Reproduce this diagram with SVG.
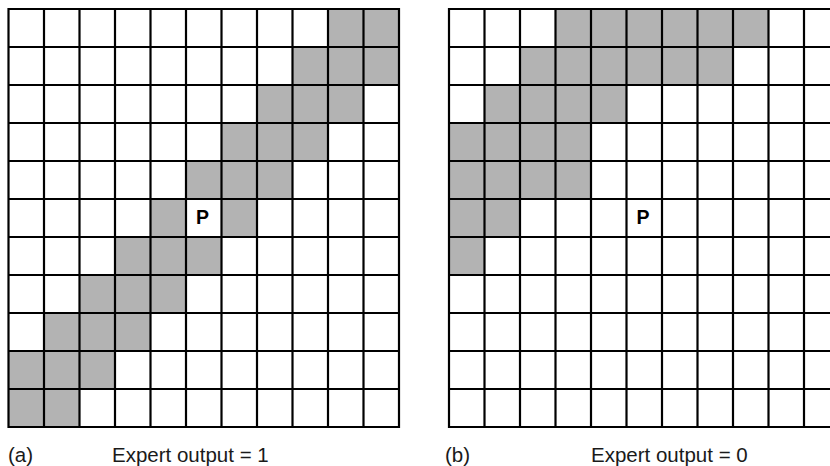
<svg xmlns="http://www.w3.org/2000/svg" width="830" height="466" viewBox="0 0 830 466">
<style>
.s{fill:#b3b3b3}
.g{fill:none;stroke:#000;stroke-width:2.2}
.t{font-family:"Liberation Sans",Arial,sans-serif;font-size:20.5px;fill:#1a1a1a}
.p{font-family:"Liberation Sans",Arial,sans-serif;font-size:19.5px;font-weight:bold;fill:#000;text-anchor:middle}
</style>
<defs>
<rect id="c" width="35.5" height="38" class="s"/>
<path id="grid" class="g" d="M0,0H390.5V418H0Z M35.5,0V418 M71,0V418 M106.5,0V418 M142,0V418 M177.5,0V418 M213,0V418 M248.5,0V418 M284,0V418 M319.5,0V418 M355,0V418 M0,38H390.5 M0,76H390.5 M0,114H390.5 M0,152H390.5 M0,190H390.5 M0,228H390.5 M0,266H390.5 M0,304H390.5 M0,342H390.5 M0,380H390.5"/>
</defs>
<g id="gridA" transform="translate(8.5,9)">
<rect width="390.5" height="418" fill="#fff"/>
<use href="#c" x="319.5" y="0"/><use href="#c" x="355" y="0"/>
<use href="#c" x="284" y="38"/><use href="#c" x="319.5" y="38"/><use href="#c" x="355" y="38"/>
<use href="#c" x="248.5" y="76"/><use href="#c" x="284" y="76"/><use href="#c" x="319.5" y="76"/>
<use href="#c" x="213" y="114"/><use href="#c" x="248.5" y="114"/><use href="#c" x="284" y="114"/>
<use href="#c" x="177.5" y="152"/><use href="#c" x="213" y="152"/><use href="#c" x="248.5" y="152"/>
<use href="#c" x="142" y="190"/><use href="#c" x="213" y="190"/>
<use href="#c" x="106.5" y="228"/><use href="#c" x="142" y="228"/><use href="#c" x="177.5" y="228"/>
<use href="#c" x="71" y="266"/><use href="#c" x="106.5" y="266"/><use href="#c" x="142" y="266"/>
<use href="#c" x="35.5" y="304"/><use href="#c" x="71" y="304"/><use href="#c" x="106.5" y="304"/>
<use href="#c" x="0" y="342"/><use href="#c" x="35.5" y="342"/><use href="#c" x="71" y="342"/>
<use href="#c" x="0" y="380"/><use href="#c" x="35.5" y="380"/>
<use href="#grid"/>
<text class="p" x="194" y="215">P</text>
</g>
<g id="gridB" transform="translate(449,9)">
<rect width="390.5" height="418" fill="#fff"/>
<use href="#c" x="106.5" y="0"/><use href="#c" x="142" y="0"/><use href="#c" x="177.5" y="0"/><use href="#c" x="213" y="0"/><use href="#c" x="248.5" y="0"/><use href="#c" x="284" y="0"/>
<use href="#c" x="71" y="38"/><use href="#c" x="106.5" y="38"/><use href="#c" x="142" y="38"/><use href="#c" x="177.5" y="38"/><use href="#c" x="213" y="38"/><use href="#c" x="248.5" y="38"/>
<use href="#c" x="35.5" y="76"/><use href="#c" x="71" y="76"/><use href="#c" x="106.5" y="76"/><use href="#c" x="142" y="76"/>
<use href="#c" x="0" y="114"/><use href="#c" x="35.5" y="114"/><use href="#c" x="71" y="114"/><use href="#c" x="106.5" y="114"/>
<use href="#c" x="0" y="152"/><use href="#c" x="35.5" y="152"/><use href="#c" x="71" y="152"/><use href="#c" x="106.5" y="152"/>
<use href="#c" x="0" y="190"/><use href="#c" x="35.5" y="190"/>
<use href="#c" x="0" y="228"/>
<use href="#grid"/>
<text class="p" x="194" y="215">P</text>
</g>
<g id="labels">
<text class="t" x="8" y="462">(a)</text>
<text class="t" x="112" y="462">Expert output = 1</text>
<text class="t" x="445" y="462">(b)</text>
<text class="t" x="591" y="462">Expert output = 0</text>
</g>
</svg>
